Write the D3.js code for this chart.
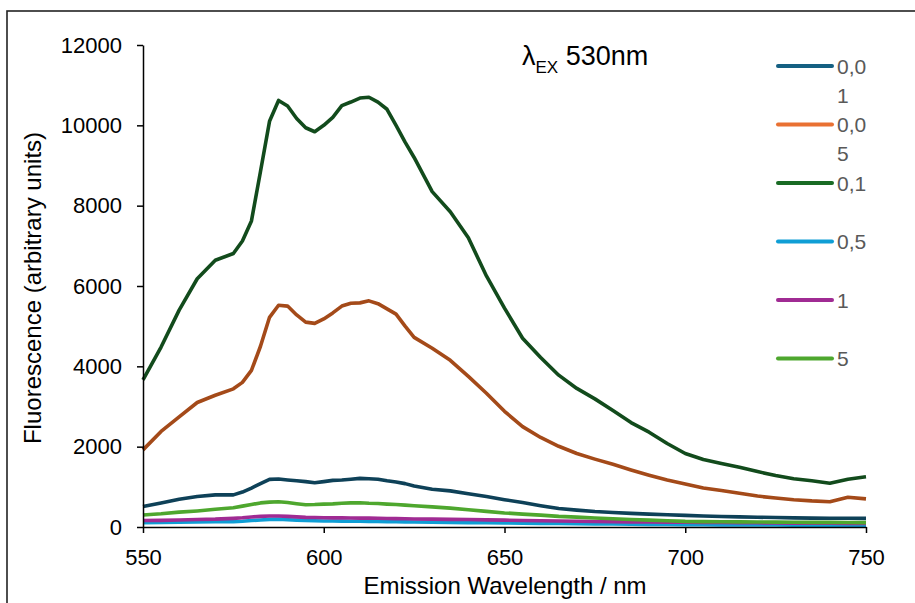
<!DOCTYPE html>
<html>
<meta charset="utf-8">
<head>
  <title>Fluorescence emission spectra</title>
</head>

<style>
body {
  margin: 0;
  background: white;
}
text {
  font-family: "Liberation Sans", Arial, sans-serif;
}
.tick text {
  font-size: 22px;
  fill: #000;
}
.legend text {
  font-size: 21px;
  fill: #595959;
}
</style>

<body>
  <svg width="915" height="603"></svg>

  <script src="https://cdnjs.cloudflare.com/ajax/libs/d3/7.8.5/d3.min.js"></script>
  <script>

// wavelengths (nm), finer around the two peaks
var wavelengths = [550, 555, 560, 565, 570,
  575, 577.5, 580, 582.5, 585, 587.5, 590, 592.5, 595, 597.5, 600,
  602.5, 605, 607.5, 610, 612.5, 615, 617.5, 620, 622.5, 625,
  630, 635, 640, 645, 650, 655, 660, 665, 670, 675, 680, 685, 690, 695,
  700, 705, 710, 715, 720, 725, 730, 735, 740, 745, 750];

var conc001 = [510, 600, 690, 760, 800,
  800, 870, 970, 1080, 1185, 1195, 1170, 1150, 1130, 1100, 1130,
  1160, 1170, 1190, 1210, 1200, 1190, 1150, 1120, 1080, 1020,
  940, 900, 830, 760, 680, 610, 530, 460, 420, 385, 360, 340, 320, 305,
  290, 275, 262, 252, 243, 235, 228, 222, 218, 216, 215];

var conc005 = [1920, 2380, 2740, 3100, 3280,
  3440, 3600, 3900, 4500, 5220, 5520, 5500, 5280, 5100, 5070, 5180,
  5330, 5500, 5570, 5580, 5630, 5560, 5430, 5300, 5000, 4720,
  4450, 4150, 3750, 3330, 2880, 2500, 2230, 2010, 1830, 1690, 1560, 1420, 1290, 1170,
  1070, 970, 910, 840, 770, 720, 680, 650, 630, 740, 700];

var conc01 = [3660, 4480, 5400, 6180, 6640,
  6810, 7120, 7620, 8850, 10100, 10620, 10480, 10170, 9940, 9840, 10000,
  10200, 10490, 10580, 10680, 10700, 10580, 10400, 10000, 9580, 9200,
  8350, 7850, 7200, 6250, 5450, 4700, 4220, 3780, 3450, 3190, 2900, 2600, 2360, 2080,
  1830, 1680, 1580, 1490, 1380, 1280, 1200, 1150, 1090, 1190, 1250];

var conc05 = [110, 115, 120, 125, 130,
  135, 145, 160, 175, 190, 195, 180, 170, 160, 155, 150,
  148, 146, 144, 142, 140, 138, 135, 132, 128, 125,
  120, 115, 110, 105, 100, 95, 90, 86, 82, 78, 74, 70, 66, 63,
  60, 57, 54, 52, 50, 48, 46, 44, 42, 41, 40];

var conc1 = [160, 165, 175, 185, 195,
  215, 230, 250, 265, 275, 275, 265, 252, 240, 235, 230,
  228, 226, 224, 222, 220, 216, 212, 208, 204, 200,
  195, 190, 185, 178, 170, 162, 155, 148, 142, 137, 132, 128, 124, 122,
  120, 116, 112, 108, 104, 100, 97, 95, 93, 91, 90];

var conc5 = [300, 330, 370, 400, 440,
  480, 520, 560, 600, 620, 630, 610, 580, 555, 560, 570,
  575, 590, 600, 605, 590, 585, 570, 560, 545, 530,
  500, 470, 430, 390, 350, 320, 295, 265, 245, 225, 205, 185, 170, 155,
  140, 135, 130, 127, 124, 121, 118, 116, 114, 112, 110];

var seriesNames = ["0,01", "0,05", "0,1", "0,5", "1", "5"];
var seriesValues = [conc001, conc005, conc01, conc05, conc1, conc5];

var xTicks = [550, 600, 650, 700, 750];
var yTicks = [0, 2000, 4000, 6000, 8000, 10000, 12000];

// line colours (darker in the plot) and legend colours
var lineColors = ["#0e4158", "#a44a19", "#124b1c", "#0f9ed5", "#a02b93", "#4ea72e"];
var legendColors = ["#156082", "#e97132", "#196b24", "#0f9ed5", "#a02b93", "#4ea72e"];

var svg = d3.select('svg');

// outer frame (runs off the page to the right and bottom)
svg.append('rect')
  .attr('x', 7).attr('y', 11)
  .attr('width', 1000).attr('height', 1000)
  .attr('fill', 'none')
  .attr('stroke', '#222')
  .attr('stroke-width', 1.6);

var x = d3.scaleLinear().domain([550, 750]).range([143, 866]);
var y = d3.scaleLinear().domain([0, 12000]).range([527, 45]);

var line = d3.line()
  .x(function(d) { return x(d[0]); })
  .y(function(d) { return y(d[1]); });

svg.append('g')
  .selectAll('path')
  .data(seriesValues)
  .enter()
  .append('path')
  .attr('fill', 'none')
  .attr('stroke', function(d, i) { return lineColors[i]; })
  .attr('stroke-width', 3.6)
  .attr('stroke-linejoin', 'round')
  .attr('d', function(vals) {
    return line(wavelengths.map(function(w, j) { return [w, vals[j]]; }));
  });

var xAxis = svg.append('g')
  .attr('transform', 'translate(0,527)')
  .call(d3.axisBottom(x).tickValues(xTicks).tickFormat(d3.format('d'))
    .tickSize(6).tickSizeOuter(0).tickPadding(16));

var yAxis = svg.append('g')
  .attr('transform', 'translate(143,0)')
  .call(d3.axisLeft(y).tickValues(yTicks).tickFormat(d3.format('d'))
    .tickSize(6).tickSizeOuter(0).tickPadding(15));

[xAxis, yAxis].forEach(function(a) {
  a.select('.domain').attr('stroke', '#000').attr('stroke-width', 1.5);
  a.selectAll('.tick line').attr('stroke', '#000').attr('stroke-width', 1.5);
  a.selectAll('.tick text').attr('font-family', null).attr('font-size', null);
});

// axis titles
svg.append('text')
  .attr('x', 505).attr('y', 594)
  .attr('text-anchor', 'middle')
  .attr('font-size', 24)
  .attr('fill', '#000')
  .text('Emission Wavelength / nm');

svg.append('text')
  .attr('transform', 'translate(41,288) rotate(-90)')
  .attr('text-anchor', 'middle')
  .attr('font-size', 24)
  .attr('fill', '#000')
  .text('Fluorescence (arbitrary units)');

// annotation
var note = svg.append('text')
  .attr('x', 522).attr('y', 65)
  .attr('font-size', 27)
  .attr('fill', '#000');
note.append('tspan').text('λ');
note.append('tspan').attr('font-size', 17).attr('dy', 8).text('EX');
note.append('tspan').attr('dy', -8).text(' 530nm');

// legend, labels wrap after three characters like the original
var legend = svg.append('g').attr('class', 'legend');
var rows = legend.selectAll('g')
  .data(seriesNames)
  .enter()
  .append('g')
  .attr('transform', function(d, i) { return 'translate(778,' + (66 + i * 58.5) + ')'; });

rows.append('line')
  .attr('x1', 0).attr('x2', 54)
  .attr('stroke', function(d, i) { return legendColors[i]; })
  .attr('stroke-width', 4)
  .attr('stroke-linecap', 'round');

rows.append('text')
  .attr('x', 59).attr('y', 7.5)
  .each(function(d) {
    var t = d3.select(this);
    t.append('tspan').attr('x', 59).text(d.slice(0, 3));
    if (d.length > 3) {
      t.append('tspan').attr('x', 59).attr('dy', 29).text(d.slice(3));
    }
  });

  </script>
</body>
</html>
